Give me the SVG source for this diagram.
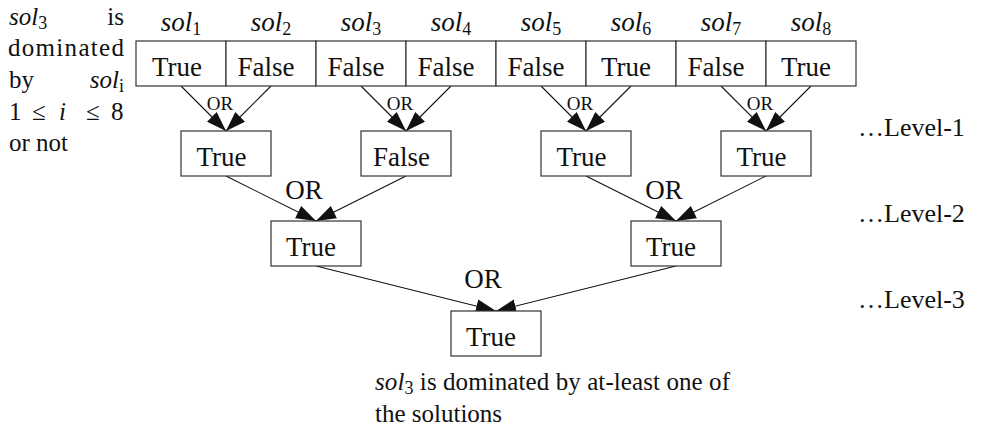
<svg xmlns="http://www.w3.org/2000/svg" width="988" height="436" viewBox="0 0 988 436" font-family="'Liberation Serif', 'DejaVu Serif', serif">
<style>
text{fill:#111}
.cell{font-size:27px;text-anchor:middle}
.sol{font-size:27px;font-style:italic;text-anchor:middle}
.it{font-style:italic}
.sub{font-style:normal;font-size:18px}
.or1{font-size:19px;text-anchor:middle}
.or2{font-size:27px;text-anchor:middle}
.lab{font-size:25px}
.lv{font-size:26px}
.box{fill:#fff;stroke:#333;stroke-width:1.2}
.edge{stroke:#111;stroke-width:1.1;fill:none;marker-end:url(#ah)}
</style>
<defs>
<marker id="ah" markerUnits="userSpaceOnUse" markerWidth="20" markerHeight="14" refX="19" refY="6.5" orient="auto" viewBox="0 0 19 13"><path d="M0,0 L19,6.5 L0,13 z" fill="#111"/></marker>
</defs>

<g id="edges">
<line class="edge" x1="181" y1="86" x2="226" y2="131"/>
<line class="edge" x1="271" y1="86" x2="226" y2="131"/>
<line class="edge" x1="361" y1="86" x2="406" y2="131"/>
<line class="edge" x1="451" y1="86" x2="406" y2="131"/>
<line class="edge" x1="541" y1="86" x2="586" y2="131"/>
<line class="edge" x1="631" y1="86" x2="586" y2="131"/>
<line class="edge" x1="721" y1="86" x2="766" y2="131"/>
<line class="edge" x1="811" y1="86" x2="766" y2="131"/>
<line class="edge" x1="226" y1="176" x2="316" y2="221"/>
<line class="edge" x1="406" y1="176" x2="316" y2="221"/>
<line class="edge" x1="586" y1="176" x2="676" y2="221"/>
<line class="edge" x1="766" y1="176" x2="676" y2="221"/>
<line class="edge" x1="316" y1="266" x2="496" y2="311"/>
<line class="edge" x1="676" y1="266" x2="496" y2="311"/>
</g>

<g id="or-labels">
<text class="or1" x="220" y="110">OR</text>
<text class="or1" x="400" y="110">OR</text>
<text class="or1" x="580" y="110">OR</text>
<text class="or1" x="760" y="110">OR</text>
<text class="or2" x="304" y="199">OR</text>
<text class="or2" x="664" y="199">OR</text>
<text class="or2" x="483" y="288">OR</text>
</g>

<g id="sol-labels">
<text class="sol" x="181" y="31">sol<tspan class="sub" dy="4">1</tspan></text>
<text class="sol" x="271" y="31">sol<tspan class="sub" dy="4">2</tspan></text>
<text class="sol" x="361" y="31">sol<tspan class="sub" dy="4">3</tspan></text>
<text class="sol" x="451" y="31">sol<tspan class="sub" dy="4">4</tspan></text>
<text class="sol" x="541" y="31">sol<tspan class="sub" dy="4">5</tspan></text>
<text class="sol" x="631" y="31">sol<tspan class="sub" dy="4">6</tspan></text>
<text class="sol" x="721" y="31">sol<tspan class="sub" dy="4">7</tspan></text>
<text class="sol" x="811" y="31">sol<tspan class="sub" dy="4">8</tspan></text>
</g>

<g id="cell1"><rect class="box" x="136" y="41" width="90" height="45"/><text class="cell" x="177" y="76">True</text></g>
<g id="cell2"><rect class="box" x="226" y="41" width="90" height="45"/><text class="cell" x="266" y="76">False</text></g>
<g id="cell3"><rect class="box" x="316" y="41" width="90" height="45"/><text class="cell" x="356" y="76">False</text></g>
<g id="cell4"><rect class="box" x="406" y="41" width="90" height="45"/><text class="cell" x="446" y="76">False</text></g>
<g id="cell5"><rect class="box" x="496" y="41" width="90" height="45"/><text class="cell" x="536" y="76">False</text></g>
<g id="cell6"><rect class="box" x="586" y="41" width="90" height="45"/><text class="cell" x="626" y="76">True</text></g>
<g id="cell7"><rect class="box" x="676" y="41" width="90" height="45"/><text class="cell" x="716" y="76">False</text></g>
<g id="cell8"><rect class="box" x="766" y="41" width="90" height="45"/><text class="cell" x="806" y="76">True</text></g>

<g id="l1a"><rect class="box" x="181" y="131" width="90" height="45"/><text class="cell" x="221.5" y="166">True</text></g>
<g id="l1b"><rect class="box" x="361" y="131" width="90" height="45"/><text class="cell" x="401.5" y="166">False</text></g>
<g id="l1c"><rect class="box" x="541" y="131" width="90" height="45"/><text class="cell" x="581.5" y="166">True</text></g>
<g id="l1d"><rect class="box" x="721" y="131" width="90" height="45"/><text class="cell" x="761.5" y="166">True</text></g>

<g id="l2a"><rect class="box" x="271" y="221" width="90" height="45"/><text class="cell" x="311" y="256">True</text></g>
<g id="l2b"><rect class="box" x="631" y="221" width="90" height="45"/><text class="cell" x="671" y="256">True</text></g>

<g id="l3"><rect class="box" x="451" y="311" width="90" height="45"/><text class="cell" x="491" y="346">True</text></g>

<g id="left-note" class="lab">
<text x="9" y="25"><tspan class="it">sol</tspan><tspan class="sub" dy="4">3</tspan></text>
<text x="124" y="25" text-anchor="end">is</text>
<text x="8" y="56" textLength="116">dominated</text>
<text x="9" y="88">by</text>
<text x="124" y="88" text-anchor="end"><tspan class="it">sol</tspan><tspan class="sub" dy="4">i</tspan></text>
<text x="9" y="120">1</text>
<text x="32" y="120">≤</text>
<text x="59" y="120" class="it">i</text>
<text x="86" y="120">≤</text>
<text x="111" y="120">8</text>
<text x="9" y="151">or not</text>
</g>

<g id="level-labels" class="lv">
<text x="858" y="136">…Level-1</text>
<text x="858" y="222">…Level-2</text>
<text x="858" y="308">…Level-3</text>
</g>

<g id="caption" class="lab">
<text x="375" y="390" textLength="355"><tspan class="it">sol</tspan><tspan class="sub" dy="4">3</tspan><tspan dy="-4"> is dominated by at-least one of</tspan></text>
<text x="375" y="422">the solutions</text>
</g>
</svg>
